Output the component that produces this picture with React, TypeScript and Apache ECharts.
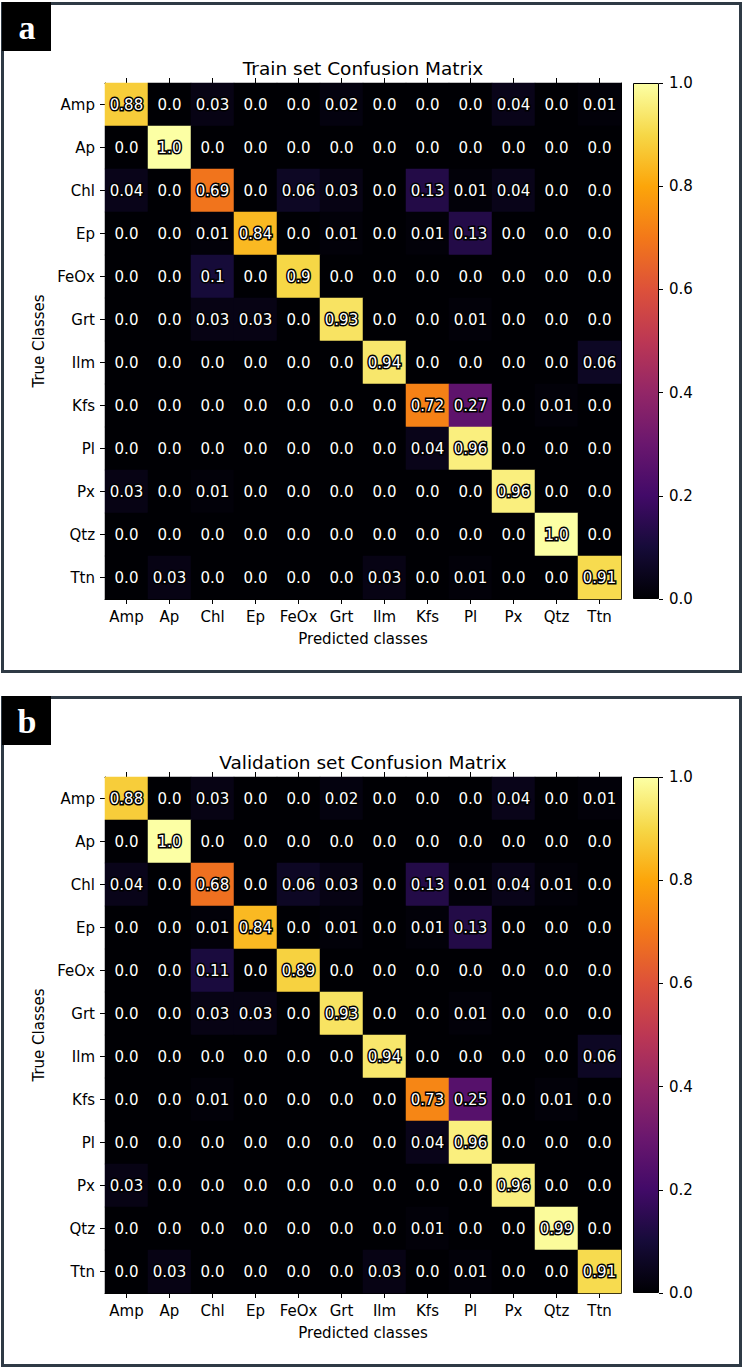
import React, { useEffect, useRef } from "react";
import * as echarts from "echarts";

const classes = ["Amp", "Ap", "Chl", "Ep", "FeOx", "Grt", "Ilm", "Kfs", "Pl", "Px", "Qtz", "Ttn"];

const trainMatrix = [
  [0.88, 0.0, 0.03, 0.0, 0.0, 0.02, 0.0, 0.0, 0.0, 0.04, 0.0, 0.01],
  [0.0, 1.0, 0.0, 0.0, 0.0, 0.0, 0.0, 0.0, 0.0, 0.0, 0.0, 0.0],
  [0.04, 0.0, 0.69, 0.0, 0.06, 0.03, 0.0, 0.13, 0.01, 0.04, 0.0, 0.0],
  [0.0, 0.0, 0.01, 0.84, 0.0, 0.01, 0.0, 0.01, 0.13, 0.0, 0.0, 0.0],
  [0.0, 0.0, 0.1, 0.0, 0.9, 0.0, 0.0, 0.0, 0.0, 0.0, 0.0, 0.0],
  [0.0, 0.0, 0.03, 0.03, 0.0, 0.93, 0.0, 0.0, 0.01, 0.0, 0.0, 0.0],
  [0.0, 0.0, 0.0, 0.0, 0.0, 0.0, 0.94, 0.0, 0.0, 0.0, 0.0, 0.06],
  [0.0, 0.0, 0.0, 0.0, 0.0, 0.0, 0.0, 0.72, 0.27, 0.0, 0.01, 0.0],
  [0.0, 0.0, 0.0, 0.0, 0.0, 0.0, 0.0, 0.04, 0.96, 0.0, 0.0, 0.0],
  [0.03, 0.0, 0.01, 0.0, 0.0, 0.0, 0.0, 0.0, 0.0, 0.96, 0.0, 0.0],
  [0.0, 0.0, 0.0, 0.0, 0.0, 0.0, 0.0, 0.0, 0.0, 0.0, 1.0, 0.0],
  [0.0, 0.03, 0.0, 0.0, 0.0, 0.0, 0.03, 0.0, 0.01, 0.0, 0.0, 0.91],
];

const validationMatrix = [
  [0.88, 0.0, 0.03, 0.0, 0.0, 0.02, 0.0, 0.0, 0.0, 0.04, 0.0, 0.01],
  [0.0, 1.0, 0.0, 0.0, 0.0, 0.0, 0.0, 0.0, 0.0, 0.0, 0.0, 0.0],
  [0.04, 0.0, 0.68, 0.0, 0.06, 0.03, 0.0, 0.13, 0.01, 0.04, 0.01, 0.0],
  [0.0, 0.0, 0.01, 0.84, 0.0, 0.01, 0.0, 0.01, 0.13, 0.0, 0.0, 0.0],
  [0.0, 0.0, 0.11, 0.0, 0.89, 0.0, 0.0, 0.0, 0.0, 0.0, 0.0, 0.0],
  [0.0, 0.0, 0.03, 0.03, 0.0, 0.93, 0.0, 0.0, 0.01, 0.0, 0.0, 0.0],
  [0.0, 0.0, 0.0, 0.0, 0.0, 0.0, 0.94, 0.0, 0.0, 0.0, 0.0, 0.06],
  [0.0, 0.0, 0.01, 0.0, 0.0, 0.0, 0.0, 0.73, 0.25, 0.0, 0.01, 0.0],
  [0.0, 0.0, 0.0, 0.0, 0.0, 0.0, 0.0, 0.04, 0.96, 0.0, 0.0, 0.0],
  [0.03, 0.0, 0.0, 0.0, 0.0, 0.0, 0.0, 0.0, 0.0, 0.96, 0.0, 0.0],
  [0.0, 0.0, 0.0, 0.0, 0.0, 0.0, 0.0, 0.01, 0.0, 0.0, 0.99, 0.0],
  [0.0, 0.03, 0.0, 0.0, 0.0, 0.0, 0.03, 0.0, 0.01, 0.0, 0.0, 0.91],
];

const panelTitles = ["Train set Confusion Matrix", "Validation set Confusion Matrix"];
const panelLetters = ["a", "b"];
const xAxisName = "Predicted classes";
const yAxisName = "True Classes";

// matplotlib "inferno" colormap samples at 0, 0.1, ..., 1.0
const inferno = [
  "#000004", "#160b39", "#420a68", "#6a176e", "#932667", "#bc3754",
  "#dd513a", "#f37819", "#fca50a", "#f6d746", "#fcffa4",
];

const FONT = "DejaVu Sans";
const PANEL_OFFSET = 694;

function fmt(v: number): string {
  let s = String(v);
  if (s.indexOf(".") < 0) s += ".0";
  return s;
}

export default function App() {
  const ref = useRef<HTMLDivElement>(null);

  useEffect(() => {
    if (!ref.current) return;
    const chart = echarts.init(ref.current, null, { renderer: "svg" });

    const grids: any[] = [];
    const xAxes: any[] = [];
    const yAxes: any[] = [];
    const series: any[] = [];
    const graphics: any[] = [];
    const heatSeriesIdx: number[] = [];

    const axisLineStyle = { show: true, lineStyle: { color: "#000", width: 1 } };
    const tickStyle = { show: true, length: 5, alignWithLabel: true, lineStyle: { color: "#000", width: 1 } };
    const labelStyle = { color: "#000", fontSize: 15, fontFamily: FONT, margin: 10, interval: 0 };

    const matrices = [trainMatrix, validationMatrix];

    matrices.forEach((matrix, p) => {
      const off = p * PANEL_OFFSET;
      const gHeat = grids.length;
      grids.push({ left: 105, top: 83 + off, width: 516, height: 516 });
      const gBar = grids.length;
      grids.push({ left: 633, top: 83 + off, width: 26, height: 516 });

      const xBottom = xAxes.length;
      xAxes.push({
        type: "category", gridIndex: gHeat, data: classes, position: "bottom",
        axisLine: axisLineStyle, axisTick: tickStyle, axisLabel: labelStyle,
        splitLine: { show: false }, splitArea: { show: false },
        name: xAxisName, nameLocation: "middle", nameGap: 32,
        nameTextStyle: { color: "#000", fontSize: 15, fontFamily: FONT },
      });
      xAxes.push({
        type: "category", gridIndex: gHeat, data: classes, position: "top",
        axisLine: axisLineStyle, axisTick: tickStyle, axisLabel: { show: false },
        splitLine: { show: false },
      });
      const xBar = xAxes.length;
      xAxes.push({
        type: "category", gridIndex: gBar, data: [""],
        axisLine: { show: false }, axisTick: { show: false }, axisLabel: { show: false },
      });

      const yLeft = yAxes.length;
      yAxes.push({
        type: "category", gridIndex: gHeat, data: classes, inverse: true, position: "left",
        axisLine: axisLineStyle, axisTick: tickStyle, axisLabel: labelStyle,
        splitLine: { show: false }, splitArea: { show: false },
        name: yAxisName, nameLocation: "middle", nameGap: 48, nameRotate: 90,
        nameTextStyle: { color: "#000", fontSize: 15, fontFamily: FONT },
      });
      yAxes.push({
        type: "category", gridIndex: gHeat, data: classes, inverse: true, position: "right",
        axisLine: axisLineStyle, axisTick: { show: false }, axisLabel: { show: false },
        splitLine: { show: false },
      });
      const yBar = yAxes.length;
      yAxes.push({
        type: "value", gridIndex: gBar, min: 0, max: 1, interval: 0.2, position: "right",
        axisLine: { show: false },
        axisTick: { show: true, length: 4, lineStyle: { color: "#000" } },
        axisLabel: { color: "#000", fontSize: 15, fontFamily: FONT, margin: 10, formatter: (v: number) => v.toFixed(1) },
        splitLine: { show: false },
      });

      const data: any[] = [];
      matrix.forEach((row, r) => row.forEach((v, c) => data.push([c, r, v])));

      heatSeriesIdx.push(series.length);
      series.push({
        type: "heatmap", xAxisIndex: xBottom, yAxisIndex: yLeft, data,
        label: {
          show: true,
          formatter: (pr: any) => fmt(pr.value[2]),
          color: "#fff", fontSize: 15, fontFamily: FONT,
          textBorderColor: "#000", textBorderWidth: 3,
        },
        emphasis: { disabled: true },
        itemStyle: { borderWidth: 0 },
      });

      const stops = inferno.map((c, i) => ({ offset: 1 - i / (inferno.length - 1), color: c })).reverse();
      series.push({
        type: "bar", xAxisIndex: xBar, yAxisIndex: yBar, data: [1], barWidth: "100%",
        itemStyle: {
          color: new echarts.graphic.LinearGradient(0, 0, 0, 1, stops),
          borderColor: "#000", borderWidth: 1,
        },
        emphasis: { disabled: true },
        silent: true,
      });

      graphics.push({
        type: "rect", shape: { x: 2.5, y: 3.5 + off, width: 738, height: 668 },
        style: { fill: "none", stroke: "#2f3a45", lineWidth: 3 }, z: 10,
      });
      graphics.push({
        type: "rect", shape: { x: 2, y: 2 + off, width: 49, height: 49 },
        style: { fill: "#000" }, z: 11,
      });
      graphics.push({
        type: "text", x: 27, y: 27.5 + off, z: 12,
        style: {
          text: panelLetters[p], fill: "#fff", align: "center", verticalAlign: "middle",
          font: "bold 34px 'Liberation Serif', 'DejaVu Serif', serif",
        },
      });
      graphics.push({
        type: "text", x: 363, y: 68 + off, z: 12,
        style: {
          text: panelTitles[p], fill: "#000", align: "center", verticalAlign: "middle",
          font: `18.5px '${FONT}'`,
        },
      });
    });

    chart.setOption({
      animation: false,
      backgroundColor: "#fff",
      grid: grids,
      xAxis: xAxes,
      yAxis: yAxes,
      visualMap: {
        type: "continuous", min: 0, max: 1, show: false, seriesIndex: heatSeriesIdx,
        inRange: { color: inferno },
      },
      series,
      graphic: graphics,
    });

    return () => chart.dispose();
  }, []);

  return (
    <div style={{ position: "absolute", left: 0, top: 0, width: 742, height: 1371, background: "#fff" }}>
      <div ref={ref} style={{ width: 742, height: 1371 }} />
    </div>
  );
}
